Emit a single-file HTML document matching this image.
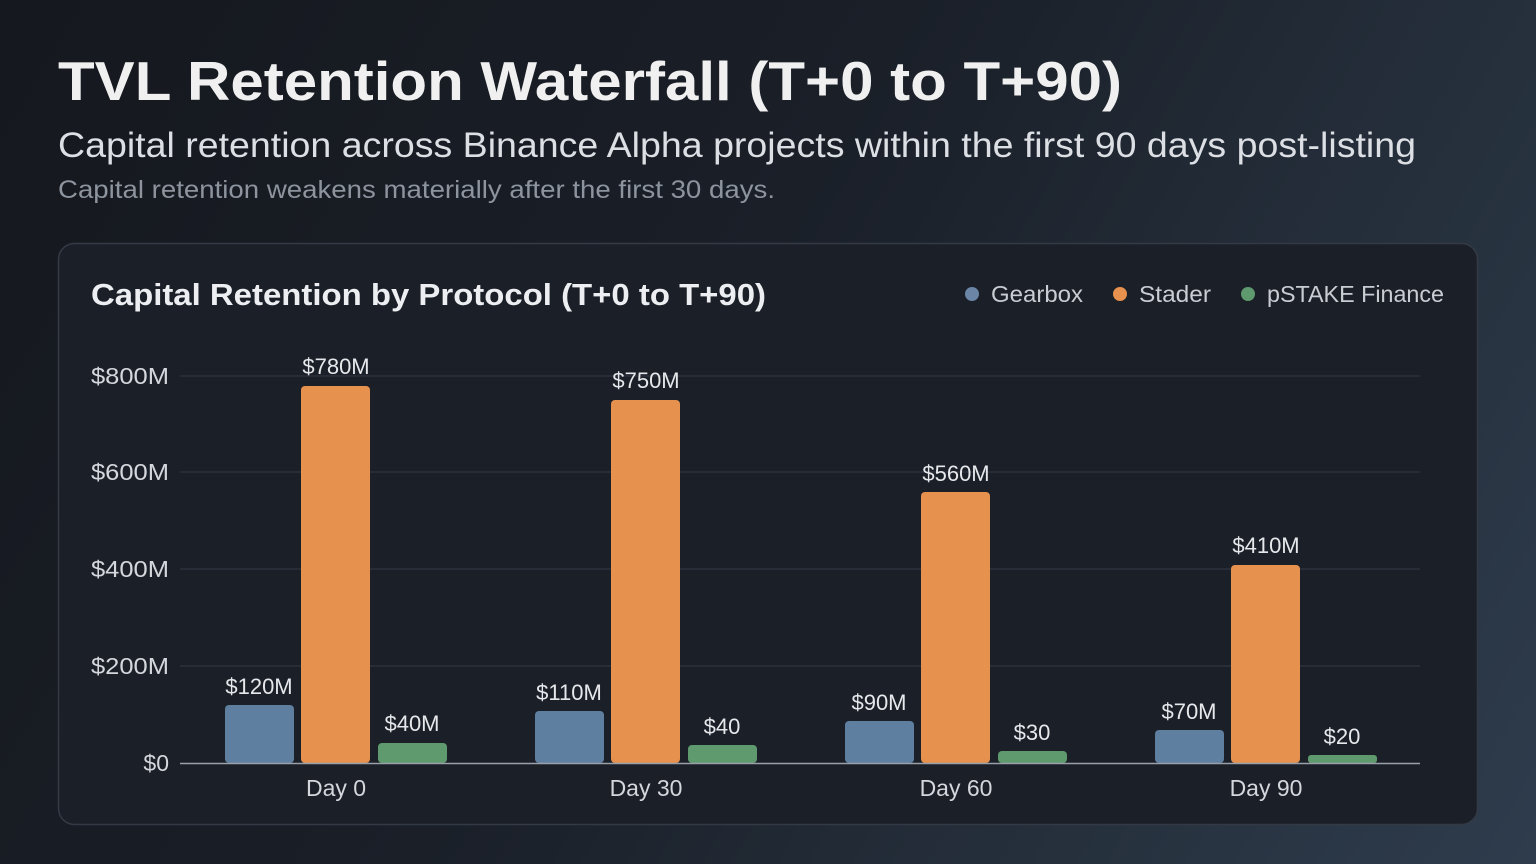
<!DOCTYPE html>
<html><head><meta charset="utf-8"><style>
html,body{margin:0;padding:0;width:1536px;height:864px;overflow:hidden;}
body{background:linear-gradient(120deg,#15181e 0%,#1a1f28 45%,#27323f 80%,#2e3c4d 100%);font-family:"Liberation Sans",sans-serif;}
</style></head><body>
<svg width="1536" height="864" xmlns="http://www.w3.org/2000/svg" style="position:absolute;left:0;top:0">
<text x="58" y="100" font-size="55" font-weight="bold" fill="#f0f0f0" textLength="1064" lengthAdjust="spacingAndGlyphs">TVL Retention Waterfall (T+0 to T+90)</text>
<text x="58" y="157" font-size="35" fill="#dcdfe4" textLength="1358" lengthAdjust="spacingAndGlyphs">Capital retention across Binance Alpha projects within the first 90 days post-listing</text>
<text x="58" y="198" font-size="25" fill="#8d949e" textLength="717" lengthAdjust="spacingAndGlyphs">Capital retention weakens materially after the first 30 days.</text>
<rect x="58.5" y="243.5" width="1419" height="581" rx="16" fill="#1b1f28" stroke="#343a45" stroke-width="1.5"/>
<text x="91" y="305" font-size="31" font-weight="bold" fill="#eceef1" textLength="675" lengthAdjust="spacingAndGlyphs">Capital Retention by Protocol (T+0 to T+90)</text>
<circle cx="972" cy="294" r="7" fill="#6a85a5"/><text x="991" y="302" font-size="23" fill="#c9cdd3" textLength="92" lengthAdjust="spacingAndGlyphs">Gearbox</text>
<circle cx="1120" cy="294" r="7" fill="#e6914d"/><text x="1139" y="302" font-size="23" fill="#c9cdd3" textLength="72" lengthAdjust="spacingAndGlyphs">Stader</text>
<circle cx="1248" cy="294" r="7" fill="#5f9a6e"/><text x="1267" y="302" font-size="23" fill="#c9cdd3" textLength="177" lengthAdjust="spacingAndGlyphs">pSTAKE Finance</text>
<g stroke="#30353f" stroke-width="1.2">
<line x1="180" x2="1420" y1="376" y2="376"/><line x1="180" x2="1420" y1="472" y2="472"/>
<line x1="180" x2="1420" y1="569" y2="569"/><line x1="180" x2="1420" y1="666" y2="666"/>
</g>
<g font-size="23" fill="#d4d7dc" text-anchor="end">
<text x="169" y="384" textLength="78" lengthAdjust="spacingAndGlyphs">$800M</text><text x="169" y="480" textLength="78" lengthAdjust="spacingAndGlyphs">$600M</text><text x="169" y="577" textLength="78" lengthAdjust="spacingAndGlyphs">$400M</text><text x="169" y="674" textLength="78" lengthAdjust="spacingAndGlyphs">$200M</text><text x="169" y="771">$0</text>
</g>
<g font-size="22" fill="#e6e8eb" text-anchor="middle">
<rect x="225" y="705" width="69" height="58" rx="4" fill="#5f7fa0"/><text x="259" y="694">$120M</text>
<rect x="301" y="386" width="69" height="377" rx="4" fill="#e6914d"/><text x="336" y="374">$780M</text>
<rect x="378" y="743" width="69" height="20" rx="4" fill="#5f9a6e"/><text x="412" y="731">$40M</text>
<rect x="535" y="711" width="69" height="52" rx="4" fill="#5f7fa0"/><text x="569" y="700">$110M</text>
<rect x="611" y="400" width="69" height="363" rx="4" fill="#e6914d"/><text x="646" y="388">$750M</text>
<rect x="688" y="745" width="69" height="18" rx="4" fill="#5f9a6e"/><text x="722" y="734">$40</text>
<rect x="845" y="721" width="69" height="42" rx="4" fill="#5f7fa0"/><text x="879" y="710">$90M</text>
<rect x="921" y="492" width="69" height="271" rx="4" fill="#e6914d"/><text x="956" y="481">$560M</text>
<rect x="998" y="751" width="69" height="12" rx="4" fill="#5f9a6e"/><text x="1032" y="740">$30</text>
<rect x="1155" y="730" width="69" height="33" rx="4" fill="#5f7fa0"/><text x="1189" y="719">$70M</text>
<rect x="1231" y="565" width="69" height="198" rx="4" fill="#e6914d"/><text x="1266" y="553">$410M</text>
<rect x="1308" y="755" width="69" height="8" rx="3" fill="#5f9a6e"/><text x="1342" y="744">$20</text>
</g>
<line x1="180" x2="1420" y1="763.5" y2="763.5" stroke="#9aa0aa" stroke-width="1.5"/>
<g font-size="23" fill="#d4d7dc" text-anchor="middle">
<text x="336" y="796">Day 0</text><text x="646" y="796">Day 30</text><text x="956" y="796">Day 60</text><text x="1266" y="796">Day 90</text>
</g>
</svg>
</body></html>
